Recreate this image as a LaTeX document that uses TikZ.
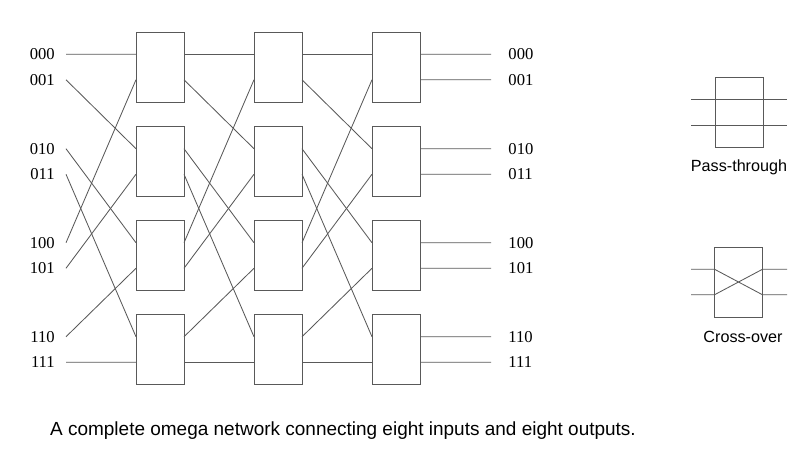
\documentclass[tikz,border=0pt]{standalone}
\usepackage{fontspec}
\setmainfont{Liberation Serif}
\newfontfamily\capfont{Liberation Sans}

\tikzset{
	switch/.style={shape=rectangle, draw=black!65, line width=0.6pt, minimum width=1.2cm, minimum height=1.75cm, outer sep=0pt, inner sep=0pt},
	inlbl/.style={anchor=east, inner xsep=0.275cm, inner ysep=0pt, font=\fontsize{11.8}{13}\selectfont},
	outlbl/.style={anchor=west, inner xsep=0.43cm, inner ysep=0pt, font=\fontsize{11.8}{13}\selectfont},
	wire/.style={draw=black!65, line width=0.6pt}
}

\begin{document}
\begin{tikzpicture}[x=0.025cm, y=-0.025cm]
	\useasboundingbox (0,0) rectangle (807,455);
	% Switch boxes, three stages:
	\node[switch](sw11) at (160, 67){};
	\node[switch](sw12) at (160, 161.5){};
	\node[switch](sw13) at (160, 255.5){};
	\node[switch](sw14) at (160, 349.5){};
	\node[switch](sw21) at (278, 67){};
	\node[switch](sw22) at (278, 161.5){};
	\node[switch](sw23) at (278, 255.5){};
	\node[switch](sw24) at (278, 349.5){};
	\node[switch](sw31) at (396, 67){};
	\node[switch](sw32) at (396, 161.5){};
	\node[switch](sw33) at (396, 255.5){};
	\node[switch](sw34) at (396, 349.5){};
	% Inputs and outputs:
	\node[inlbl](x0) at (66, 54.24){000};
	\node[inlbl](x1) at (66, 79.76){001};
	\node[inlbl](x2) at (66, 148.74){010};
	\node[inlbl](x3) at (66, 174.26){011};
	\node[inlbl](x4) at (66, 242.74){100};
	\node[inlbl](x5) at (66, 268.26){101};
	\node[inlbl](x6) at (66, 336.74){110};
	\node[inlbl](x7) at (66, 362.26){111};
	\node[outlbl](y0) at (491, 54.24){000};
	\node[outlbl](y1) at (491, 79.76){001};
	\node[outlbl](y2) at (491, 148.74){010};
	\node[outlbl](y3) at (491, 174.26){011};
	\node[outlbl](y4) at (491, 242.74){100};
	\node[outlbl](y5) at (491, 268.26){101};
	\node[outlbl](y6) at (491, 336.74){110};
	\node[outlbl](y7) at (491, 362.26){111};
	% Shuffle into stage 1:
	\draw[wire] (x0.east) -- (sw11.152);
	\draw[wire] (x1.east) -- (sw12.152);
	\draw[wire] (x2.east) -- (sw13.152);
	\draw[wire] (x3.east) -- (sw14.152);
	\draw[wire] (x4.east) -- (sw11.208);
	\draw[wire] (x5.east) -- (sw12.208);
	\draw[wire] (x6.east) -- (sw13.208);
	\draw[wire] (x7.east) -- (sw14.208);
	% Shuffle stage 1 -> stage 2:
	\draw[wire] (sw11.28) -- (sw21.152);
	\draw[wire] (sw11.332) -- (sw22.152);
	\draw[wire] (sw12.28) -- (sw23.152);
	\draw[wire] (sw12.332) -- (sw24.152);
	\draw[wire] (sw13.28) -- (sw21.208);
	\draw[wire] (sw13.332) -- (sw22.208);
	\draw[wire] (sw14.28) -- (sw23.208);
	\draw[wire] (sw14.332) -- (sw24.208);
	% Shuffle stage 2 -> stage 3:
	\draw[wire] (sw21.28) -- (sw31.152);
	\draw[wire] (sw21.332) -- (sw32.152);
	\draw[wire] (sw22.28) -- (sw33.152);
	\draw[wire] (sw22.332) -- (sw34.152);
	\draw[wire] (sw23.28) -- (sw31.208);
	\draw[wire] (sw23.332) -- (sw32.208);
	\draw[wire] (sw24.28) -- (sw33.208);
	\draw[wire] (sw24.332) -- (sw34.208);
	% Stage 3 to outputs:
	\draw[wire] (sw31.28) -- (y0.west);
	\draw[wire] (sw31.332) -- (y1.west);
	\draw[wire] (sw32.28) -- (y2.west);
	\draw[wire] (sw32.332) -- (y3.west);
	\draw[wire] (sw33.28) -- (y4.west);
	\draw[wire] (sw33.332) -- (y5.west);
	\draw[wire] (sw34.28) -- (y6.west);
	\draw[wire] (sw34.332) -- (y7.west);
	% Legend: pass-through
	\node[switch](pt) at (739, 112.5){};
	\coordinate (pa) at (691, 99.74);
	\coordinate (pb) at (787, 99.74);
	\coordinate (pc) at (691, 125.26);
	\coordinate (pd) at (787, 125.26);
	\draw[wire] (pa) -- (pb);
	\draw[wire] (pc) -- (pd);
	\node[font=\capfont\fontsize{11.5}{13}\selectfont](ptl) at (739, 167){Pass-through};
	% Legend: cross-over
	\node[switch](co) at (738.5, 282){};
	\coordinate (ca) at (691, 269.24);
	\coordinate (cb) at (787, 269.24);
	\coordinate (cc) at (691, 294.76);
	\coordinate (cd) at (787, 294.76);
	\draw[wire] (ca) -- (co.152) -- (co.332) -- (cd);
	\draw[wire] (cc) -- (co.208) -- (co.28) -- (cb);
	\node[font=\capfont\fontsize{11.5}{13}\selectfont](col) at (743, 337){Cross-over};
	% Caption
	\node[font=\capfont\fontsize{13.5}{16}\selectfont](cap) at (343, 431){A complete omega network connecting eight inputs and eight outputs.};
\end{tikzpicture}
\end{document}
